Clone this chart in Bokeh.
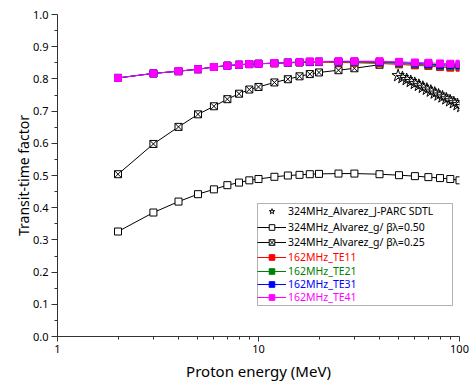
from bokeh.plotting import figure
from bokeh.models import (FixedTicker, PrintfTickFormatter, Legend, LegendItem,
                          BoxAnnotation, Range1d, Title)
from bokeh.embed import file_html
from bokeh.resources import INLINE

# ---------------- data ----------------
energy = [2, 3, 4, 5, 6, 7, 8, 9, 10, 12, 14, 16, 18, 20, 25, 30, 40, 50, 60, 70, 80, 90, 100]

alv_050 = [0.326, 0.385, 0.419, 0.442, 0.457, 0.470, 0.478, 0.485, 0.489, 0.496, 0.500, 0.502,
           0.504, 0.505, 0.506, 0.506, 0.504, 0.501, 0.498, 0.495, 0.492, 0.489, 0.485]

energy_025 = [2, 3, 4, 5, 6, 7, 8, 9, 10, 12, 14, 16, 18, 20, 25, 30, 40]
alv_025 = [0.504, 0.598, 0.651, 0.690, 0.715, 0.737, 0.754, 0.767, 0.775, 0.789, 0.799, 0.808,
           0.815, 0.820, 0.827, 0.833, 0.844]

sdtl_energy = [49.5, 52.0, 54.6, 57.2, 59.9, 62.8, 65.7, 68.8, 72.0, 75.3, 78.7, 82.3, 86.0,
               89.8, 93.7, 97.8, 102.0]
sdtl_ttf = [0.810, 0.804, 0.798, 0.792, 0.786, 0.780, 0.774, 0.768, 0.762, 0.756, 0.750, 0.744,
            0.738, 0.732, 0.726, 0.720, 0.714]

te11 = [0.803, 0.817, 0.824, 0.830, 0.837, 0.841, 0.844, 0.846, 0.847, 0.848, 0.850, 0.851,
        0.852, 0.852, 0.851, 0.850, 0.848, 0.845, 0.842, 0.840, 0.837, 0.835, 0.835]
te21 = [0.803, 0.817, 0.824, 0.830, 0.837, 0.841, 0.844, 0.846, 0.847, 0.849, 0.850, 0.851,
        0.853, 0.853, 0.853, 0.852, 0.851, 0.848, 0.845, 0.843, 0.841, 0.839, 0.839]
te31 = [0.803, 0.817, 0.824, 0.830, 0.837, 0.841, 0.844, 0.846, 0.847, 0.849, 0.851, 0.852,
        0.853, 0.854, 0.854, 0.854, 0.853, 0.851, 0.848, 0.846, 0.844, 0.843, 0.843]
te41 = [0.803, 0.817, 0.824, 0.830, 0.837, 0.841, 0.844, 0.846, 0.847, 0.849, 0.851, 0.852,
        0.854, 0.854, 0.855, 0.855, 0.855, 0.853, 0.851, 0.850, 0.848, 0.847, 0.847]

y_ticks = [0.0, 0.1, 0.2, 0.3, 0.4, 0.5, 0.6, 0.7, 0.8, 0.9, 1.0]
x_ticks = [1, 10, 100]

labels = ["324MHz_Alvarez_J-PARC SDTL", "324MHz_Alvarez_g/ βλ=0.50", "324MHz_Alvarez_g/ βλ=0.25",
          "162MHz_TE11", "162MHz_TE21", "162MHz_TE31", "162MHz_TE41"]
te_colors = ["#FF0000", "#008000", "#0000FF", "#FF00FF"]

FONT = "Noto Sans"

# ---------------- figure ----------------
p = figure(width=470, height=384, x_axis_type="log", output_backend="svg",
           toolbar_location=None, x_range=Range1d(1, 100), y_range=Range1d(0, 1.0),
           min_border_left=57, min_border_right=11, min_border_top=14, min_border_bottom=48)
p.outline_line_color = None
p.xgrid.visible = False
p.ygrid.visible = False
p.background_fill_color = "white"

# series
r_star = p.scatter(sdtl_energy, sdtl_ttf, marker="star", size=13, line_color="black",
                   fill_alpha=0, line_width=1)
l50 = p.line(energy, alv_050, line_color="black", line_width=1)
s50 = p.scatter(energy, alv_050, marker="square", size=7, line_color="black",
                fill_color="white", line_width=1)
l25 = p.line(energy_025, alv_025, line_color="black", line_width=1)
s25 = p.scatter(energy_025, alv_025, marker="square_x", size=7, line_color="black",
                fill_color="white", line_width=1)
te_r = []
for ys, c in zip([te11, te21, te31, te41], te_colors):
    ln = p.line(energy, ys, line_color=c, line_width=1)
    sc = p.scatter(energy, ys, marker="square", size=7, line_color=c, fill_color=c)
    te_r.append([ln, sc])

# axes
for ax in (p.xaxis[0], p.yaxis[0]):
    ax.axis_line_color = "#333333"
    ax.major_tick_line_color = "#333333"
    ax.minor_tick_line_color = "#333333"
    ax.major_tick_in = 0
    ax.minor_tick_in = 0
    ax.major_label_text_font = FONT
    ax.major_label_text_font_size = "11px"
    ax.major_label_text_color = "black"
    ax.axis_label_text_font = FONT
    ax.axis_label_text_font_size = "14px"
    ax.axis_label_text_font_style = "normal"
    ax.axis_label_text_color = "black"

p.yaxis.ticker = FixedTicker(ticks=y_ticks,
                             minor_ticks=[round(v + 0.05, 2) for v in y_ticks[:-1]])
p.yaxis.formatter = PrintfTickFormatter(format="%.1f")
p.yaxis.major_tick_out = 6
p.yaxis.minor_tick_out = 3
p.yaxis.major_label_standoff = 3
p.yaxis.axis_label = "Transit-time factor"
p.yaxis.axis_label_standoff = -3

p.xaxis.ticker = FixedTicker(ticks=x_ticks,
                             minor_ticks=[m * d for d in (1, 10) for m in range(2, 10)])
p.xaxis.formatter = PrintfTickFormatter(format="%d")
p.xaxis.major_tick_out = 5
p.xaxis.minor_tick_out = 3
p.xaxis.major_label_standoff = 3

p.add_layout(Title(text="Proton energy (MeV)", align="center", offset=29, standoff=7,
                   text_font=FONT, text_font_size="15px", text_font_style="normal",
                   text_color="black"), "below")

# legend frame (frame-relative screen units)
box = BoxAnnotation(left=200, right=395, bottom=31, top=133,
                    left_units="screen", right_units="screen",
                    top_units="screen", bottom_units="screen",
                    fill_color="white", fill_alpha=1.0, line_color="black", line_width=1)
p.add_layout(box)

entry_rs = [[r_star], [l50, s50], [l25, s25]] + te_r
entry_cols = ["black", "black", "black"] + te_colors
entry_y = [118, 102.5, 87, 72, 58.5, 45, 32]
for lab, rs, col, yy in zip(labels, entry_rs, entry_cols, entry_y):
    lg = Legend(items=[LegendItem(label=lab, renderers=rs)], location=(200, yy),
                padding=0, margin=0, spacing=0, label_standoff=2,
                glyph_width=29, glyph_height=14, label_height=14,
                border_line_color=None, background_fill_alpha=0,
                label_text_font=FONT, label_text_font_size="10.5px",
                label_text_color=col)
    p.add_layout(lg, "center")

open("out.html", "w").write(file_html(p, INLINE))
